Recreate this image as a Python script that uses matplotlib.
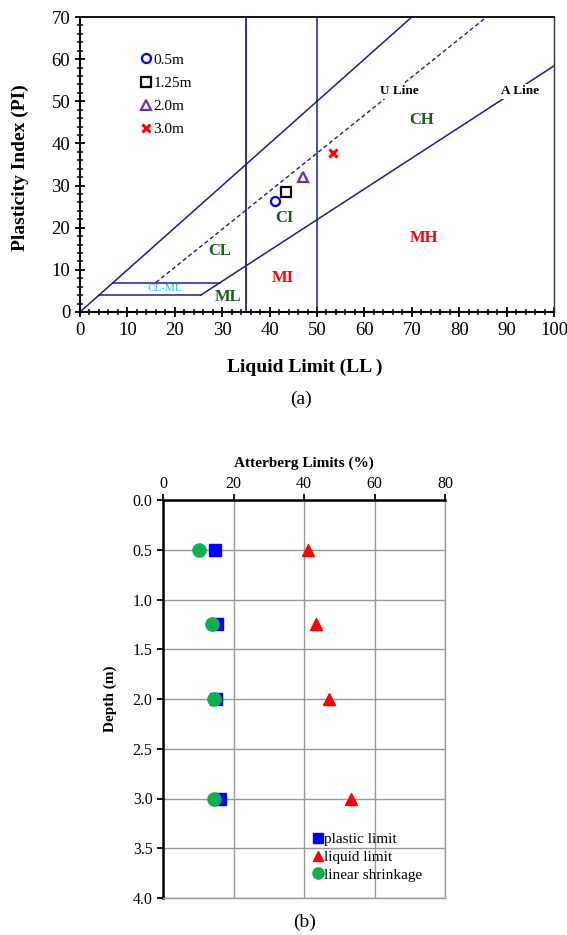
import matplotlib
matplotlib.use("Agg")
import matplotlib.pyplot as plt
from matplotlib.ticker import MultipleLocator, FormatStrFormatter

plt.rcParams['font.family'] = ['Liberation Serif', 'DejaVu Serif']

# ---------------- data ----------------
depth_labels = ['0.5m', '1.25m', '2.0m', '3.0m']
depths = [0.5, 1.25, 2.0, 3.0]
liquid_limit = [41.1, 43.5, 47.0, 53.4]
plasticity_index = [26.3, 28.5, 32.0, 37.7]
plastic_limit = [14.8, 15.3, 15.0, 16.2]
linear_shrinkage = [10.2, 13.9, 14.5, 14.5]

line_col = '#1c1c9a'

fig = plt.figure(figsize=(5.67, 9.35), dpi=100)

# ---------------- (a) plasticity chart ----------------
ax = fig.add_axes([80/567, 1-312/935, 474/567, 295/935])
ax.set_xlim(0, 100)
ax.set_ylim(0, 70)

ax.plot([0, 70], [0, 70], color=line_col, lw=1.1)
ax.plot([35, 35], [0, 70], color=line_col, lw=1.3)
ax.plot([50, 50], [0, 70], color=line_col, lw=1.1)
a_start = 20 + 4/0.73
ax.plot([a_start, 100], [4, 0.73*(100-20)], color=line_col, lw=1.1)
ax.plot([4, a_start], [4, 4], color=line_col, lw=1.1)
ax.plot([7, 20 + 7/0.73], [7, 7], color=line_col, lw=1.1)
u_end = 8 + 70/0.9
ax.plot([16, u_end], [7, 70], color=line_col, lw=1.0, ls=(0, (3, 2)))

markers = ['o', 's', '^', 'x']
mcols = ['blue', 'black', '#7030a0', 'red']
for lab, x, y, m, c in zip(depth_labels, liquid_limit, plasticity_index, markers, mcols):
    if m == 'x':
        ax.plot(x, y, ls='none', marker=m, ms=6, mec=c, mew=2.2, label=lab)
    else:
        ax.plot(x, y, ls='none', marker=m, ms=6.5, mfc='none', mec=c, mew=1.6, label=lab)

ax.legend(loc='center left', bbox_to_anchor=(0.131, 0.737), frameon=False,
          handlelength=0.5, handletextpad=0.25, labelspacing=0.62,
          fontsize=11, borderpad=0, borderaxespad=0)

bb = dict(facecolor='white', edgecolor='none', pad=1)
ax.text(67.3, 52.4, 'U Line', fontsize=9.5, fontweight='bold', ha='center', va='center', bbox=bb)
ax.text(92.8, 52.4, 'A Line', fontsize=9.5, fontweight='bold', ha='center', va='center', bbox=bb)
green = '#1a5c1a'
ax.text(29.5, 14.5, 'CL', fontsize=12, fontweight='bold', color=green, ha='center', va='center')
ax.text(43.2, 22.4, 'CI', fontsize=12, fontweight='bold', color=green, ha='center', va='center')
ax.text(31.3, 3.6, 'ML', fontsize=12, fontweight='bold', color=green, ha='center', va='center')
ax.text(72.0, 45.6, 'CH', fontsize=12, fontweight='bold', color=green, ha='center', va='center')
ax.text(42.8, 8.0, 'MI', fontsize=12, fontweight='bold', color='red', ha='center', va='center')
ax.text(72.6, 17.6, 'MH', fontsize=12, fontweight='bold', color='red', ha='center', va='center')
ax.text(17.8, 5.5, 'CL-ML', fontsize=8, color='#20c0d0', ha='center', va='center')

ax.xaxis.set_major_locator(MultipleLocator(10))
ax.xaxis.set_minor_locator(MultipleLocator(2))
ax.yaxis.set_major_locator(MultipleLocator(10))
ax.yaxis.set_minor_locator(MultipleLocator(2))
ax.tick_params(which='major', direction='inout', length=7, width=1.3, labelsize=13.5)
ax.tick_params(which='minor', direction='inout', length=4, width=1.1)
ax.spines['left'].set_linewidth(1.5)
ax.spines['bottom'].set_linewidth(1.5)
ax.spines['top'].set_linewidth(1.3)
ax.spines['right'].set_linewidth(1.0)
ax.spines['right'].set_color('#333333')
ax.set_xlabel('Liquid Limit (LL )', fontsize=14, fontweight='bold')
ax.xaxis.set_label_coords(0.475, -0.158)
ax.set_ylabel('Plasticity Index (PI)', fontsize=14, fontweight='bold')
ax.yaxis.set_label_coords(-0.108, 0.49)
fig.text(301/567, 1-399/935, '(a)', fontsize=14, ha='center', va='center')

# ---------------- (b) depth profile ----------------
bx = fig.add_axes([163/567, 1-898/935, 282/567, 398/935])
bx.set_xlim(0, 80)
bx.set_ylim(4.0, 0.0)
bx.xaxis.set_major_locator(MultipleLocator(20))
bx.yaxis.set_major_locator(MultipleLocator(0.5))
bx.yaxis.set_major_formatter(FormatStrFormatter('%.1f'))
bx.grid(True, color='#999999', lw=1.0)
bx.set_axisbelow(True)
bx.xaxis.tick_top()
bx.xaxis.set_label_position('top')
bx.tick_params(axis='x', direction='out', length=4, width=1.3, labelsize=11.5, pad=2)
bx.tick_params(axis='y', direction='out', length=4, width=1.3, labelsize=11.5)
for s in ['right', 'bottom']:
    bx.spines[s].set_color('#999999')
    bx.spines[s].set_linewidth(1.0)
for s in ['top', 'left']:
    bx.spines[s].set_linewidth(1.8)

bx.plot(plastic_limit, depths, ls='none', marker='s', ms=9, color='blue', label='plastic limit')
bx.plot(liquid_limit, depths, ls='none', marker='^', ms=9, color='red', label='liquid limit')
bx.plot(linear_shrinkage, depths, ls='none', marker='o', ms=9.5, color='#10b050', label='linear shrinkage')
bx.legend(loc='center left', bbox_to_anchor=(0.533, 0.103), frameon=False, fontsize=11,
          handlelength=0.6, handletextpad=0.1, labelspacing=0.27, markerscale=0.85,
          borderpad=0, borderaxespad=0)
bx.set_xlabel('Atterberg Limits (%)', fontsize=11, fontweight='bold')
bx.xaxis.set_label_coords(0.5, 1.083)
bx.set_ylabel('Depth (m)', fontsize=11, fontweight='bold')
bx.yaxis.set_label_coords(-0.163, 0.5)
fig.text(305/567, 1-922/935, '(b)', fontsize=14, ha='center', va='center')

fig.savefig('out.png', dpi=100)
